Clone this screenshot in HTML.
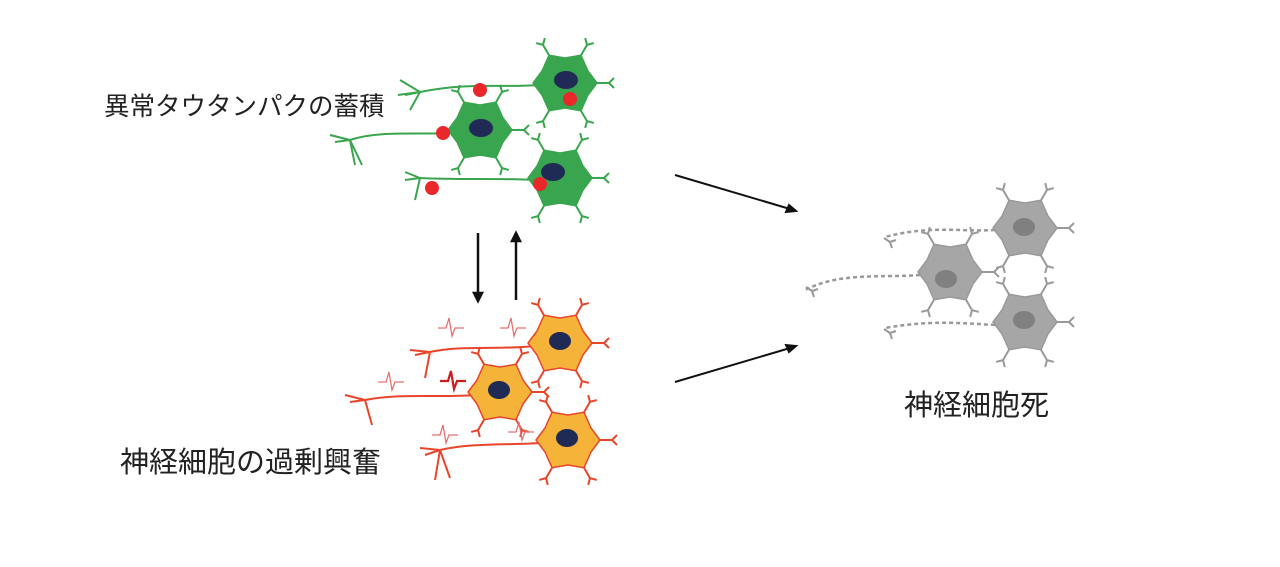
<!DOCTYPE html>
<html><head><meta charset="utf-8"><style>
body{margin:0;background:#fff;}
svg{display:block}
text{font-family:"Liberation Sans","Noto Sans CJK JP",sans-serif;fill:#222;}
</style></head><body>
<svg width="1280" height="567" viewBox="0 0 1280 567" xmlns="http://www.w3.org/2000/svg">
<defs>
<g id="d"><path d="M28,0 L44,0 M44,0 L49,-5 M44,0 L49,5" fill="none"/></g>
<symbol id="n" overflow="visible">
 <g stroke-width="2" fill="none">
  <use href="#d"/><use href="#d" transform="rotate(60)"/><use href="#d" transform="rotate(120)"/>
  <use href="#d" transform="rotate(240)"/><use href="#d" transform="rotate(300)"/>
 </g>
 <polygon points="32,0 23,12 16,27.7 0,25 -16,27.7 -23,12 -32,0 -23,-12 -16,-27.7 0,-25 16,-27.7 23,-12" fill="currentColor" stroke-width="1.5" stroke-linejoin="round"/>
</symbol>
</defs>

<!-- green -->
<g stroke="#3aa54f" fill="none" stroke-width="2">
 <path d="M540,85 C500,88 470,82 420,92 L405,95 M420,92 L400,80 M420,92 L410,110 M420,92 L398,95"/>
 <path d="M455,133 C420,135 380,130 350,140 L335,142 M350,140 L330,135 M350,140 L355,165 M350,140 L362,165"/>
 <path d="M535,180 C500,178 460,180 420,178 L405,180 M420,178 L405,172 M420,178 L415,200"/>
</g>
<g color="#3aa54f" stroke="#3aa54f">
 <use href="#n" transform="translate(565,83)"/>
 <use href="#n" transform="translate(480,130)"/>
 <use href="#n" transform="translate(560,178)"/>
</g>
<g fill="#1f2a55">
 <ellipse cx="566" cy="80" rx="12" ry="9"/><ellipse cx="481" cy="128" rx="12" ry="9"/><ellipse cx="553" cy="172" rx="12" ry="9"/>
</g>
<g fill="#e8282b">
 <circle cx="480" cy="90" r="7"/><circle cx="443" cy="133" r="7"/><circle cx="432" cy="188" r="7"/>
 <circle cx="570" cy="99" r="7"/><circle cx="540" cy="184" r="7"/>
</g>

<!-- arrows vertical -->
<g stroke="#111" stroke-width="2.5" fill="#111">
 <line x1="478" y1="233" x2="478" y2="294"/><polygon points="474,293 482,293 478,301"/>
 <line x1="516" y1="300" x2="516" y2="240"/><polygon points="512,241 520,241 516,233"/>
</g>
<g stroke="#111" stroke-width="2" fill="#111">
 <line x1="675" y1="175" x2="790" y2="209"/><polygon points="796,211 786,212 789,205"/>
 <line x1="675" y1="382" x2="790" y2="348"/><polygon points="796,346 789,352 786,345"/>
</g>

<!-- orange -->
<g stroke="#e8462b" fill="none" stroke-width="2">
 <path d="M535,346 C500,350 460,345 430,352 L415,355 M430,352 L410,350 M430,352 L425,378"/>
 <path d="M475,395 C440,398 400,393 365,400 L350,402 M365,400 L345,395 M365,400 L372,425"/>
 <path d="M543,443 C505,445 470,443 440,450 L425,455 M440,450 L420,448 M440,450 L435,480 M440,450 L450,478"/>
</g>
<g color="#f5b33a" stroke="#e8462b">
 <use href="#n" transform="translate(560,343)"/>
 <use href="#n" transform="translate(500,392)"/>
 <use href="#n" transform="translate(568,440)"/>
</g>
<g fill="#1f2a55">
 <ellipse cx="560" cy="341" rx="11" ry="9"/><ellipse cx="499" cy="390" rx="11" ry="9"/><ellipse cx="567" cy="438" rx="11" ry="9"/>
</g>
<g stroke="#e87070" fill="none" stroke-width="1.3">
 <path d="M438,328 h8 l3,-10 l3,18 l3,-8 h9"/>
 <path d="M500,328 h8 l3,-10 l3,18 l3,-8 h9"/>
 <path d="M378,382 h8 l3,-10 l3,18 l3,-8 h9"/>
 <path d="M432,435 h8 l3,-10 l3,18 l3,-8 h9"/>
 <path d="M508,432 h8 l3,-10 l3,18 l3,-8 h9"/>
</g>
<path d="M440,381 h8 l3,-10 l3,18 l3,-8 h9" stroke="#c81e1e" stroke-width="2.2" fill="none"/>

<!-- gray -->
<g stroke="#999" fill="none" stroke-width="2.5" stroke-dasharray="4,3">
 <path d="M995,230 C960,232 930,225 885,237"/>
 <path d="M920,275 C880,278 840,272 805,290"/>
 <path d="M995,325 C960,323 930,320 885,328"/>
</g>
<g stroke="#999" fill="none" stroke-width="2">
 <path d="M890,242 l-6,-4 M890,242 l2,6 M890,242 l6,-2"/>
 <path d="M812,291 l-6,-4 M812,291 l2,6 M812,291 l6,-2"/>
 <path d="M890,333 l-6,-4 M890,333 l2,6 M890,333 l6,-2"/>
</g>
<g color="#a6a6a6" stroke="#999">
 <use href="#n" transform="translate(1025,228)"/>
 <use href="#n" transform="translate(950,272)"/>
 <use href="#n" transform="translate(1025,322)"/>
</g>
<g fill="#808080">
 <ellipse cx="1024" cy="227" rx="11" ry="9"/><ellipse cx="946" cy="279" rx="11" ry="9"/><ellipse cx="1024" cy="320" rx="11" ry="9"/>
</g>

<text x="104" y="115" font-size="25.5">異常タウタンパクの蓄積</text>
<text x="120" y="472" font-size="29">神経細胞の過剰興奮</text>
<text x="904" y="415" font-size="29">神経細胞死</text>
</svg>
</body></html>
